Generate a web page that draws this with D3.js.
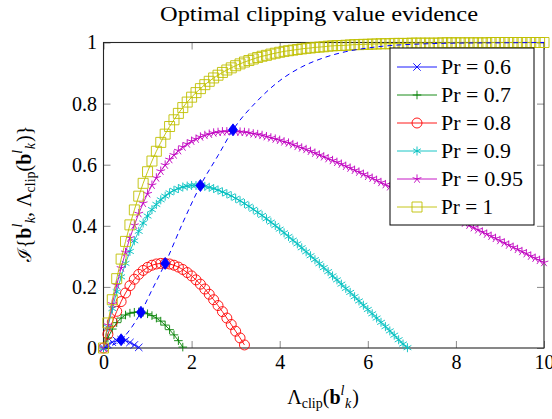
<!DOCTYPE html>
<html><head><meta charset="utf-8">
<script src="https://cdn.jsdelivr.net/npm/d3@7"></script>
<style>body{margin:0;background:#fff} svg{display:block}</style>
</head><body><svg id="c" width="552" height="419"></svg>
<script>
// ---------------- data ----------------
const titleText = "Optimal clipping value evidence";
const lambdaGrid = [0,0.1,0.2,0.3,0.4,0.5,0.6,0.7,0.8,0.9,
 1,1.1,1.2,1.3,1.4,1.5,1.6,1.7,1.8,1.9,
 2,2.1,2.2,2.3,2.4,2.5,2.6,2.7,2.8,2.9,
 3,3.1,3.2,3.3,3.4,3.5,3.6,3.7,3.8,3.9,
 4,4.1,4.2,4.3,4.4,4.5,4.6,4.7,4.8,4.9,
 5,5.1,5.2,5.3,5.4,5.5,5.6,5.7,5.8,5.9,
 6,6.1,6.2,6.3,6.4,6.5,6.6,6.7,6.8,6.9,
 7,7.1,7.2,7.3,7.4,7.5,7.6,7.7,7.8,7.9,
 8,8.1,8.2,8.3,8.4,8.5,8.6,8.7,8.8,8.9,
 9,9.1,9.2,9.3,9.4,9.5,9.6,9.7,9.8,9.9,10];

const seriesNames = ["Pr=0.6","Pr=0.7","Pr=0.8","Pr=0.9","Pr=0.95","Pr=1"];

const pr06 = [0,0.011,0.019,0.024,0.027,0.024,0.018,0.010,0.002];
const pr07 = [0,0.033,0.062,0.083,0.098,0.108,0.114,0.117,0.118,0.117,
 0.112,0.106,0.098,0.088,0.075,0.060,0.043,0.024,0.003];
const pr08 = [0,0.045,0.085,0.120,0.152,0.180,0.204,0.225,0.241,0.254,
 0.264,0.271,0.275,0.277,0.277,0.275,0.271,0.265,0.257,0.247,
 0.236,0.223,0.209,0.193,0.176,0.158,0.139,0.119,0.098,0.077,
 0.055,0.033,0.010];
const pr09 = [0,0.068,0.129,0.184,0.233,0.277,0.316,0.351,0.382,0.409,
 0.432,0.453,0.470,0.485,0.497,0.508,0.516,0.522,0.527,0.530,
 0.532,0.532,0.531,0.529,0.526,0.522,0.517,0.511,0.505,0.498,
 0.490,0.482,0.473,0.464,0.454,0.444,0.434,0.423,0.412,0.401,
 0.389,0.377,0.365,0.353,0.341,0.328,0.315,0.302,0.289,0.276,
 0.263,0.250,0.236,0.223,0.209,0.195,0.182,0.168,0.154,0.140,
 0.126,0.112,0.098,0.084,0.070,0.056,0.042,0.027,0.013,0.001];
const pr095 = [0,0.075,0.144,0.206,0.262,0.313,0.360,0.402,0.440,0.474,
 0.505,0.533,0.557,0.579,0.599,0.617,0.632,0.646,0.658,0.668,
 0.677,0.684,0.691,0.696,0.700,0.704,0.706,0.708,0.708,0.709,
 0.708,0.707,0.706,0.704,0.701,0.699,0.696,0.692,0.688,0.684,
 0.680,0.675,0.671,0.666,0.660,0.655,0.650,0.644,0.638,0.632,
 0.626,0.620,0.614,0.608,0.602,0.595,0.589,0.582,0.576,0.569,
 0.562,0.556,0.549,0.542,0.535,0.528,0.521,0.514,0.508,0.501,
 0.494,0.487,0.480,0.473,0.465,0.458,0.451,0.444,0.437,0.430,
 0.423,0.416,0.409,0.402,0.394,0.387,0.380,0.373,0.366,0.359,
 0.352,0.344,0.337,0.330,0.323,0.316,0.309,0.301,0.294,0.287,0.280];
const pr1 = [0,0.082,0.158,0.227,0.291,0.349,0.403,0.452,0.497,0.539,
 0.577,0.612,0.644,0.673,0.700,0.725,0.747,0.768,0.787,0.805,
 0.821,0.836,0.849,0.862,0.873,0.884,0.893,0.902,0.910,0.917,
 0.924,0.930,0.936,0.941,0.946,0.951,0.955,0.958,0.962,0.965,
 0.968,0.971,0.973,0.975,0.977,0.979,0.981,0.982,0.984,0.985,
 0.986,0.988,0.989,0.990,0.990,0.991,0.992,0.993,0.993,0.994,
 0.994,0.995,0.995,0.996,0.996,0.996,0.997,0.997,0.997,0.997,
 0.998,0.998,0.998,0.998,0.998,0.998,0.998,0.999,0.999,0.999,
 0.999,0.999,0.999,0.999,0.999,0.999,0.999,0.999,1,1,
 1,1,1,1,1,1,1,1,1,1,1];

// optimal clipping locus (dashed) and optimum points (diamonds)
const optX = [0,0.2,0.4,0.6,0.85,1.1,1.4,1.8,2.2,2.6,2.94,3.5,4,4.5,5,5.5,6,6.5,7,8,9,10];
const optY = [0,0.009,0.027,0.06,0.117,0.19,0.277,0.41,0.532,0.63,0.714,0.81,0.875,0.92,0.95,0.97,0.982,0.99,0.994,0.998,0.999,1];
const peakX = [0.4,0.85,1.4,2.2,2.94];
const peakY = [0.027,0.117,0.277,0.532,0.714];

const xTicks = [0,2,4,6,8,10];
const yTicks = [0,0.2,0.4,0.6,0.8,1];

// ---------------- styles ----------------
const seriesValues = [pr06,pr07,pr08,pr09,pr095,pr1];
const styles = [
  {color:"#0000ff", mark:"cross",    size:3.7},
  {color:"#008000", mark:"plus",     size:4.3},
  {color:"#ff0000", mark:"circle",   size:5},
  {color:"#00bfbf", mark:"asterisk", size:4.5},
  {color:"#bf00bf", mark:"star",     size:4.6},
  {color:"#bfbf00", mark:"square",   size:5}
];
const serif = "Liberation Serif, Tinos, Times New Roman, Times, DejaVu Serif, serif";

const markerPath = {
  cross: s => `M${-s},${-s}L${s},${s}M${-s},${s}L${s},${-s}`,
  plus: s => `M${-s},0H${s}M0,${-s}V${s}`,
  circle: s => `M${s},0A${s},${s} 0 1,1 ${-s},0A${s},${s} 0 1,1 ${s},0Z`,
  asterisk: s => [90,30,-30].map(a => {
    const c = Math.cos(a*Math.PI/180)*s, sn = Math.sin(a*Math.PI/180)*s;
    return `M${-c},${sn}L${c},${-sn}`; }).join(""),
  star: s => [0,1,2,3,4].map(i => {
    const a = (-90+72*i)*Math.PI/180;
    return `M0,0L${Math.cos(a)*s},${Math.sin(a)*s}`; }).join(""),
  square: s => `M${-s},${-s}H${s}V${s}H${-s}Z`
};

// ---------------- chart ----------------
const svg = d3.select("#c");
const m = {l:103.5, r:544, t:42.5, b:348};
const x = d3.scaleLinear().domain([0,10]).range([m.l, m.r]);
const y = d3.scaleLinear().domain([0,1]).range([m.b, m.t]);

svg.append("rect").attr("width",552).attr("height",419).attr("fill","#fff");

const tickColor = "#8a8a8a";
function styleAxis(g, keepText){
  g.select(".domain").remove();
  g.selectAll(".tick line").attr("stroke", tickColor).attr("stroke-width", 1);
  if (!keepText) g.selectAll(".tick text").remove();
  else g.selectAll(".tick text").attr("font-family", serif).attr("font-size", 20).attr("fill", "#000");
}
svg.append("g").attr("transform",`translate(0,${m.b})`)
  .call(d3.axisBottom(x).tickValues(xTicks).tickSizeInner(-7).tickSizeOuter(0).tickPadding(7).tickFormat(d => String(d)))
  .call(g => styleAxis(g, true));
svg.append("g").attr("transform",`translate(0,${m.t})`)
  .call(d3.axisTop(x).tickValues(xTicks).tickSizeInner(-7).tickSizeOuter(0))
  .call(g => styleAxis(g, false));
svg.append("g").attr("transform",`translate(${m.l},0)`)
  .call(d3.axisLeft(y).tickValues(yTicks).tickSizeInner(-7).tickSizeOuter(0).tickPadding(6.5).tickFormat(d => String(d)))
  .call(g => styleAxis(g, true));
svg.append("g").attr("transform",`translate(${m.r},0)`)
  .call(d3.axisRight(y).tickValues(yTicks).tickSizeInner(-7).tickSizeOuter(0))
  .call(g => styleAxis(g, false));

svg.append("rect").attr("x", m.l).attr("y", m.t).attr("width", m.r-m.l).attr("height", m.b-m.t)
  .attr("fill","none").attr("stroke","#262626").attr("stroke-width",1.1);

const line = d3.line().x(d => x(d[0])).y(d => y(d[1]));

seriesValues.forEach((vals, i) => {
  const st = styles[i];
  const pts = vals.map((v, j) => [lambdaGrid[j], v]);
  const g = svg.append("g");
  g.append("path").attr("d", line(pts)).attr("fill","none").attr("stroke", st.color).attr("stroke-width", 0.9);
  g.selectAll("path.mk").data(pts).join("path").attr("class","mk")
    .attr("transform", d => `translate(${x(d[0])},${y(d[1])})`)
    .attr("d", markerPath[st.mark](st.size))
    .attr("fill","none").attr("stroke", st.color).attr("stroke-width", 0.9);
});

// dashed optimum locus
svg.append("path")
  .attr("d", d3.line().curve(d3.curveMonotoneX).x(d => x(d[0])).y(d => y(d[1]))(optX.map((v,i) => [v, optY[i]])))
  .attr("fill","none").attr("stroke","#0000ff").attr("stroke-width",1).attr("stroke-dasharray","5,4");
svg.selectAll("path.pk").data(peakX.map((v,i) => [v, peakY[i]])).join("path").attr("class","pk")
  .attr("transform", d => `translate(${x(d[0])},${y(d[1])})`)
  .attr("d","M0,-6L4.5,0L0,6L-4.5,0Z").attr("fill","#0000ff").attr("stroke","#0000ff").attr("stroke-width",0.8);

// ---------------- legend ----------------
const lg = svg.append("g");
lg.append("rect").attr("x",390).attr("y",48).attr("width",144).attr("height",177)
  .attr("fill","#fff").attr("stroke","#000").attr("stroke-width",1);
const legendWidths = [70,70,70,70,82,52];
seriesNames.forEach((name, i) => {
  const st = styles[i];
  const cy = 67 + i*28;
  lg.append("line").attr("x1",397).attr("x2",437).attr("y1",cy).attr("y2",cy)
    .attr("stroke", st.color).attr("stroke-width",0.9);
  lg.append("path").attr("transform",`translate(417,${cy})`).attr("d", markerPath[st.mark](st.size))
    .attr("fill","none").attr("stroke", st.color).attr("stroke-width",0.9);
  lg.append("text").attr("x",441).attr("y",cy+7).attr("font-family",serif).attr("font-size",20)
    .attr("textLength", legendWidths[i]).attr("lengthAdjust","spacingAndGlyphs")
    .text(name.replace("=", " = "));
});

// ---------------- texts ----------------
svg.append("text").attr("x",319).attr("y",21).attr("text-anchor","middle")
  .attr("font-family",serif).attr("font-size",21)
  .attr("textLength",318).attr("lengthAdjust","spacingAndGlyphs").text(titleText);

function addParts(t, parts){
  parts.forEach(p => {
    const s = t.append("tspan").text(p.t);
    if (p.fs) s.attr("font-size", p.fs);
    if (p.fw) s.attr("font-weight", p.fw);
    if (p.st) s.attr("font-style", p.st);
    if (p.ff) s.attr("font-family", p.ff);
    if (p.dx) s.attr("dx", p.dx);
    if (p.dy) s.attr("dy", p.dy);
  });
}
const bkl = [
  {t:"b", fw:"bold"},
  {t:"l", fs:14, st:"italic", dy:-9},
  {t:"k", fs:14, st:"italic", dx:0.5, dy:13}
];

const xl = svg.append("text").attr("x",323).attr("y",404).attr("text-anchor","middle")
  .attr("font-family",serif).attr("font-size",20);
addParts(xl, [{t:"Λ"},{t:"clip",fs:14,dy:4},{t:"(",dy:-4}].concat(bkl).concat([{t:")",dy:-4,dx:1}]));

const yl = svg.append("text").attr("transform","translate(31,194) rotate(-90)").attr("text-anchor","middle")
  .attr("font-family",serif).attr("font-size",20);
addParts(yl, [{t:"ℐ", ff:"DejaVu Serif, serif", fs:19},{t:"{"}].concat(bkl)
  .concat([{t:", ",dy:-4},{t:"Λ"},{t:"clip",fs:14,dy:4},{t:"(",dy:-4}]).concat(bkl)
  .concat([{t:")",dy:-4,dx:1},{t:"}"}]));
</script></body></html>
